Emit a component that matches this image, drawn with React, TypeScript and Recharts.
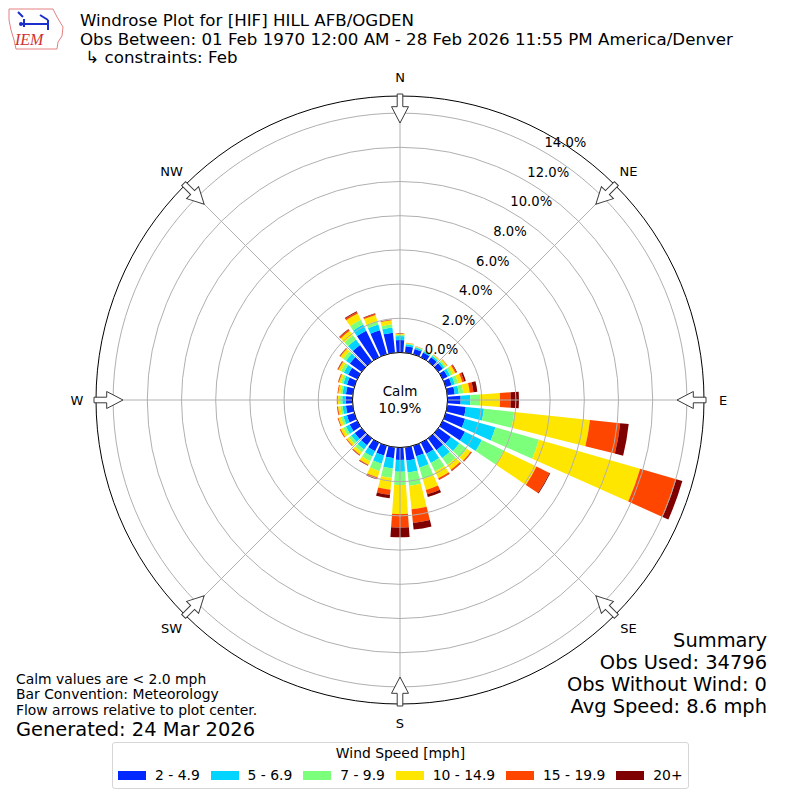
import React from 'react';
import {
  RadialBarChart,
  RadialBar,
  PolarAngleAxis,
  PolarRadiusAxis,
  PolarGrid
} from 'recharts';

// direction bins (degrees, meteorological)
const DIRECTIONS = [
  0, 10, 20, 30, 40, 50, 60, 70, 80, 90, 100, 110,
  120, 130, 140, 150, 160, 170, 180, 190, 200, 210, 220, 230,
  240, 250, 260, 270, 280, 290, 300, 310, 320, 330, 340, 350
];

// frequency (%) per speed bin, one value per direction
const SPEED_2_5 = [
  0.73, 0.38, 0.33, 0.31, 0.32, 0.32, 0.32, 0.36, 0.44, 0.77, 1.09, 1.18,
  1.45, 0.90, 0.85, 0.72, 0.64, 0.78, 0.73, 0.65, 0.60, 0.55, 0.50, 0.50,
  0.50, 0.45, 0.40, 0.40, 0.40, 0.45, 0.60, 0.85, 1.20, 1.73, 1.47, 1.18
];
const SPEED_5_7 = [
  0.23, 0.12, 0.10, 0.09, 0.10, 0.12, 0.17, 0.20, 0.24, 0.57, 1.07, 1.85,
  1.10, 0.62, 0.57, 0.60, 0.70, 0.70, 0.69, 0.60, 0.50, 0.35, 0.30, 0.25,
  0.25, 0.22, 0.20, 0.20, 0.20, 0.22, 0.28, 0.28, 0.40, 0.40, 0.35, 0.30
];
const SPEED_7_10 = [
  0.08, 0.05, 0.04, 0.04, 0.06, 0.10, 0.15, 0.20, 0.26, 0.58, 1.78, 2.65,
  1.42, 0.54, 0.50, 0.55, 0.70, 0.79, 0.77, 0.55, 0.45, 0.30, 0.20, 0.17,
  0.17, 0.15, 0.13, 0.13, 0.12, 0.14, 0.18, 0.20, 0.30, 0.31, 0.21, 0.19
];
const SPEED_10_15 = [
  0.06, 0.03, 0.02, 0.02, 0.04, 0.09, 0.18, 0.25, 0.38, 1.15, 4.45, 6.15,
  2.13, 0.28, 0.35, 0.45, 0.65, 1.38, 1.70, 0.70, 0.38, 0.23, 0.18, 0.15,
  0.17, 0.15, 0.14, 0.14, 0.13, 0.13, 0.17, 0.20, 0.33, 0.41, 0.37, 0.24
];
const SPEED_15_20 = [
  0.02, 0.01, 0.01, 0.01, 0.01, 0.03, 0.08, 0.12, 0.22, 0.63, 1.78, 2.20,
  0.85, 0.06, 0.08, 0.09, 0.27, 0.80, 0.79, 0.30, 0.09, 0.05, 0.05, 0.05,
  0.06, 0.05, 0.05, 0.05, 0.05, 0.05, 0.05, 0.05, 0.09, 0.10, 0.07, 0.03
];
const SPEED_20_UP = [
  0.00, 0.00, 0.00, 0.00, 0.00, 0.00, 0.04, 0.10, 0.23, 0.48, 0.50, 0.37,
  0.05, 0.02, 0.02, 0.02, 0.16, 0.39, 0.57, 0.20, 0.03, 0.02, 0.02, 0.00,
  0.00, 0.00, 0.01, 0.00, 0.00, 0.01, 0.02, 0.02, 0.03, 0.05, 0.03, 0.02
];

const SERIES = [SPEED_2_5, SPEED_5_7, SPEED_7_10, SPEED_10_15, SPEED_15_20, SPEED_20_UP];
const SPEED_LABELS = ['2 - 4.9', '5 - 6.9', '7 - 9.9', '10 - 14.9', '15 - 19.9', '20+'];
const COLORS = ['#0028ff', '#00d4ff', '#7cff7a', '#ffe600', '#ff4600', '#7f0000'];

const PCT_TICKS = [0, 2, 4, 6, 8, 10, 12, 14];
const COMPASS = ['N', 'NE', 'E', 'SE', 'S', 'SW', 'W', 'NW'];

const TITLE_LINES = [
  'Windrose Plot for [HIF] HILL AFB/OGDEN',
  'Obs Between: 01 Feb 1970 12:00 AM - 28 Feb 2026 11:55 PM America/Denver',
  '\u00a0\u21b3 constraints: Feb'
];
const NOTE_LINES = [
  'Calm values are < 2.0 mph',
  'Bar Convention: Meteorology',
  'Flow arrows relative to plot center.'
];
const SUMMARY_LINES = ['Summary', 'Obs Used: 34796', 'Obs Without Wind: 0', 'Avg Speed: 8.6 mph'];
const CALM_PCT = '10.9%';

const FONT = "'DejaVu Sans', sans-serif";
const CX = 400;
const CY = 400;
const INNER = 47.5;
const OUTER = 304;

const data = DIRECTIONS.map((dir, i) => {
  const row: Record<string, number> = { dir };
  SERIES.forEach((s, j) => {
    row['s' + j] = s[i];
  });
  return row;
});

const renderPctTick = (props: any) => {
  const { x, y, payload } = props;
  return (
    <text x={x + 1} y={y - 4.5} fontSize={13.2} fontFamily={FONT} fill="#000" textAnchor="start">
      {Number(payload.value).toFixed(1)}%
    </text>
  );
};

// shared polar layout for the bar chart and the grid drawn over it
const polarProps = {
  width: 800,
  height: 800,
  data,
  layout: 'centric' as const,
  cx: CX,
  cy: CY,
  innerRadius: INNER,
  outerRadius: OUTER,
  startAngle: 85,
  endAngle: -275,
  barCategoryGap: '10%',
  margin: { top: 0, right: 0, bottom: 0, left: 0 }
};

function Arrow({ angle }: { angle: number }) {
  const pts = [
    [-2.8, -306], [2.8, -306], [2.8, -293.3], [8.5, -293.3],
    [0, -277], [-8.5, -293.3], [-2.8, -293.3]
  ].map(([x, y]) => `${CX + x},${CY + y}`).join(' ');
  return (
    <polygon
      points={pts}
      fill="#fff"
      stroke="#3a3a3a"
      strokeWidth={1}
      transform={`rotate(${angle} ${CX} ${CY})`}
    />
  );
}

function Logo() {
  return (
    <g>
      <path
        d="M9,9 L53,9 L57,17 L63,27 L62,36 L58,42 L57,49 L16,49 L14,40 L11,30 L9,20 Z"
        fill="#fff"
        stroke="#e48080"
        strokeWidth={1}
      />
      <path d="M18,12 L23,17 M20,24 L48,24 M40,15 L48,20 M48,20 L48,30 M24,19 L24,27" stroke="#1a2fcc" strokeWidth={2} fill="none" />
      <circle cx={21} cy={24} r={2} fill="#1a2fcc" />
      <text x={15} y={45} fontSize={16} fontStyle="italic" fontFamily="'Liberation Serif', serif" fill="#d03030">
        IEM
      </text>
    </g>
  );
}

function Overlay() {
  return (
    <svg width={800} height={800} style={{ position: 'absolute', left: 0, top: 0, pointerEvents: 'none' }}>
      <Logo />
      {TITLE_LINES.map((t, i) => (
        <text key={t} x={80} y={26 + i * 18.5} fontSize={16.67} fontFamily={FONT} fill="#000">
          {t}
        </text>
      ))}

      {/* calm circle */}
      <circle cx={CX} cy={CY} r={INNER} fill="#fff" stroke="#000" strokeWidth={1} />
      <text x={CX} y={396} fontSize={13.5} fontFamily={FONT} textAnchor="middle">Calm</text>
      <text x={CX} y={412.5} fontSize={13.5} fontFamily={FONT} textAnchor="middle">{CALM_PCT}</text>

      {COMPASS.map((c, i) => {
        const a = (i * 45 * Math.PI) / 180;
        return (
          <g key={c}>
            <Arrow angle={i * 45} />
            <text
              x={CX + 323 * Math.sin(a)}
              y={CY - 323 * Math.cos(a)}
              dy="0.36em"
              fontSize={13}
              fontFamily={FONT}
              textAnchor="middle"
            >
              {c}
            </text>
          </g>
        );
      })}

      {NOTE_LINES.map((t, i) => (
        <text key={t} x={16} y={684 + i * 15.4} fontSize={13.9} fontFamily={FONT}>
          {t}
        </text>
      ))}
      <text x={16} y={736} fontSize={19.44} fontFamily={FONT}>Generated: 24 Mar 2026</text>

      {SUMMARY_LINES.map((t, i) => (
        <text key={t} x={767} y={647 + i * 22} fontSize={19.44} fontFamily={FONT} textAnchor="end">
          {t}
        </text>
      ))}
    </svg>
  );
}

function WindLegend() {
  return (
    <div
      style={{
        position: 'absolute',
        left: 112,
        top: 742,
        width: 577,
        height: 47,
        border: '1px solid #d6d6d6',
        borderRadius: 3,
        background: 'rgba(255,255,255,0.8)',
        fontFamily: FONT,
        fontSize: 13.9,
        boxSizing: 'border-box',
        whiteSpace: 'nowrap'
      }}
    >
      <div style={{ position: 'absolute', left: 0, right: 0, top: 2, textAlign: 'center', lineHeight: '17px' }}>
        Wind Speed [mph]
      </div>
      <div style={{ position: 'absolute', left: 5, top: 24, display: 'flex', alignItems: 'center', lineHeight: '17px' }}>
        {SPEED_LABELS.map((label, i) => (
          <div key={label} style={{ display: 'flex', alignItems: 'center', marginRight: 10.8, flexShrink: 0 }}>
            <div style={{ width: 28, height: 9.7, background: COLORS[i], marginRight: 9, flexShrink: 0 }} />
            <span>{label}</span>
          </div>
        ))}
      </div>
    </div>
  );
}

export default function App() {
  return (
    <div style={{ position: 'absolute', left: 0, top: 0, width: 800, height: 800, background: '#fff' }}>
      <RadialBarChart {...polarProps}>
        <PolarAngleAxis type="category" dataKey="dir" tick={false} tickLine={false} axisLine={false} />
        <PolarRadiusAxis type="number" domain={[0, 15]} ticks={PCT_TICKS} tick={false} axisLine={false} tickLine={false} />
        {SERIES.map((_, j) => (
          <RadialBar
            key={j}
            dataKey={'s' + j}
            stackId="wind"
            fill={COLORS[j]}
            isAnimationActive={false}
          />
        ))}
      </RadialBarChart>

      {/* grid, rings and % labels drawn above the bars */}
      <div style={{ position: 'absolute', left: 0, top: 0, pointerEvents: 'none' }}>
        <RadialBarChart {...polarProps}>
          <PolarAngleAxis
            type="category"
            dataKey="dir"
            tick={false}
            tickLine={false}
            axisLine={{ stroke: '#000', strokeWidth: 1 }}
            axisLineType="circle"
          />
          <PolarRadiusAxis
            type="number"
            domain={[0, 15]}
            ticks={PCT_TICKS}
            angle={60}
            axisLine={false}
            tickLine={false}
            tick={renderPctTick}
          />
          {/* invisible series so the axes of this layer get resolved */}
          <RadialBar dataKey="s0" fill="none" fillOpacity={0} isAnimationActive={false} />
          <PolarGrid
            gridType="circle"
            polarAngles={[90, 45, 0, -45, -90, -135, 180, 135]}
            stroke="#b0b0b0"
            strokeWidth={1}
          />
        </RadialBarChart>
      </div>
      <Overlay />
      <WindLegend />
    </div>
  );
}
